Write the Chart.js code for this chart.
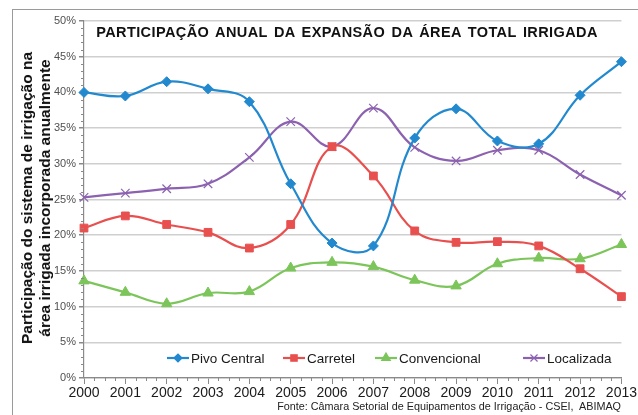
<!DOCTYPE html>
<html><head><meta charset="utf-8">
<script src="https://cdn.jsdelivr.net/npm/chart.js@4/dist/chart.umd.min.js"></script>
<style>
html,body{margin:0;padding:0;background:#fff;overflow:hidden;}
#wrap{position:relative;width:638px;height:415px;overflow:hidden;font-family:"Liberation Sans",Arial,sans-serif;}
#frame{position:absolute;left:12px;top:9px;width:626px;height:420px;border-top:1.5px solid #9a9a9a;border-left:1.5px solid #9a9a9a;box-sizing:border-box;}
canvas{position:absolute;left:0;top:0;}
#title{position:absolute;left:84px;width:526px;top:24px;text-align:center;font-weight:bold;font-size:14.5px;color:#111;letter-spacing:0.4px;word-spacing:2px;white-space:nowrap;}
#ytitle{position:absolute;left:36px;top:198px;transform:translate(-50%,-50%) rotate(-90deg);font-weight:bold;font-size:15.5px;line-height:18px;text-align:center;color:#111;white-space:nowrap;}
#foot{position:absolute;right:17px;top:400px;font-size:10.8px;color:#222;white-space:nowrap;}
</style></head>
<body><div id="wrap">
<div id="frame"></div>
<canvas id="c" width="638" height="415"></canvas>
<div id="title">PARTICIPAÇÃO ANUAL DA EXPANSÃO DA ÁREA TOTAL IRRIGADA</div>
<div id="ytitle">Participação do sistema de irrigação na<br>área irrigada incorporada anualmente</div>
<div id="foot">Fonte: Câmara Setorial de Equipamentos de Irrigação - CSEI,&nbsp; ABIMAQ</div>
</div>
<script>
const years = ["2000","2001","2002","2003","2004","2005","2006","2007","2008","2009","2010","2011","2012","2013"];
const pivoCentral  = [40.0,39.5,41.5,40.5,38.7,27.2,18.9,18.5,33.6,37.7,33.2,32.8,39.6,44.3];
const carretel     = [21.0,22.7,21.5,20.4,18.2,21.5,32.4,28.3,20.6,19.0,19.1,18.5,15.3,11.4];
const convencional = [13.6,12.0,10.4,11.9,12.1,15.4,16.2,15.6,13.7,12.9,16.0,16.8,16.7,18.7];
const localizada   = [25.3,25.9,26.5,27.2,30.9,35.9,32.4,37.8,32.3,30.4,31.9,31.9,28.5,25.6];
const yTicks = [0,5,10,15,20,25,30,35,40,45,50];

const seriesNames = ["Pivo Central","Carretel","Convencional","Localizada"];
const colors = ["#2389cf","#e8504f","#7cc55a","#8c62b0"];
const styles = ["rectRot","rect","triangle","crossRot"];
const radii = [5,5.5,6,6];
const dataArr = [pivoCentral,carretel,convencional,localizada];

const datasets = dataArr.map((d,i)=>({
  label: seriesNames[i], data: d,
  borderColor: colors[i], backgroundColor: colors[i],
  borderWidth: 2.2, tension: 0.4,
  pointStyle: styles[i], pointRadius: radii[i],
  pointBorderWidth: i===3?1.2:1, pointBorderColor: colors[i], pointBackgroundColor: colors[i]
}));

const extras = {
  id:'extras',
  afterDraw(chart){
    const ctx = chart.ctx, x = chart.scales.x, y = chart.scales.y;
    const a = chart.chartArea;
    ctx.save();
    ctx.strokeStyle = '#8a8a8a'; ctx.lineWidth = 1;
    for(let v=0; v<=50; v+=1){
      if(v%5===0) continue;
      const py = Math.round(y.getPixelForValue(v))+0.5;
      ctx.beginPath(); ctx.moveTo(a.left-3,py); ctx.lineTo(a.left,py); ctx.stroke();
    }
    for(let i=0;i<years.length-1;i++){
      const x0 = x.getPixelForValue(i), x1 = x.getPixelForValue(i+1);
      for(let k=1;k<4;k++){
        const px = Math.round(x0+(x1-x0)*k/4)+0.5;
        ctx.beginPath(); ctx.moveTo(px,a.bottom); ctx.lineTo(px,a.bottom+3); ctx.stroke();
      }
    }
    const ly = 358;
    const lx = [167,283,375,523];
    ctx.font = '13.5px "Liberation Sans", Arial, sans-serif';
    ctx.textBaseline = 'middle';
    for(let i=0;i<4;i++){
      ctx.strokeStyle = colors[i]; ctx.lineWidth = 2.2;
      ctx.beginPath(); ctx.moveTo(lx[i],ly); ctx.lineTo(lx[i]+22,ly); ctx.stroke();
      ctx.fillStyle = colors[i]; ctx.strokeStyle = colors[i]; ctx.lineWidth = 1.2;
      Chart.helpers.drawPoint(ctx,{pointStyle:styles[i],radius:radii[i]-1,borderWidth:1.2,rotation:0},lx[i]+11,ly);
      ctx.fillStyle = '#1a1a1a';
      ctx.fillText(seriesNames[i], lx[i]+24, ly+1);
    }
    ctx.restore();
  }
};

new Chart(document.getElementById('c'),{
  type:'line',
  data:{labels:years,datasets},
  options:{
    responsive:false, devicePixelRatio:1, animation:false,
    layout:{padding:{left:0,top:21,right:15,bottom:0}},
    plugins:{legend:{display:false},tooltip:{enabled:false}},
    scales:{
      x:{
        offset:false,
        grid:{display:true,drawOnChartArea:false,drawTicks:true,tickLength:6,color:'#8a8a8a'},
        border:{color:'#8a8a8a',width:1.2},
        ticks:{color:'#1a1a1a',font:{size:14,family:'"Liberation Sans", Arial, sans-serif'},padding:1,maxRotation:0,autoSkip:false},
        afterFit(s){s.height=37;}
      },
      y:{
        min:0,max:50,
        afterBuildTicks(s){s.ticks=yTicks.map(v=>({value:v}));},
        grid:{color:'#cfcfcf',lineWidth:1.5,tickLength:5,tickColor:'#8a8a8a'},
        border:{color:'#8a8a8a',width:1.2},
        ticks:{color:'#505050',font:{size:11,family:'"Liberation Sans", Arial, sans-serif'},padding:3,callback:v=>v+'%'},
        afterFit(s){s.width=84;}
      }
    }
  },
  plugins:[extras]
});
</script>
</body></html>
